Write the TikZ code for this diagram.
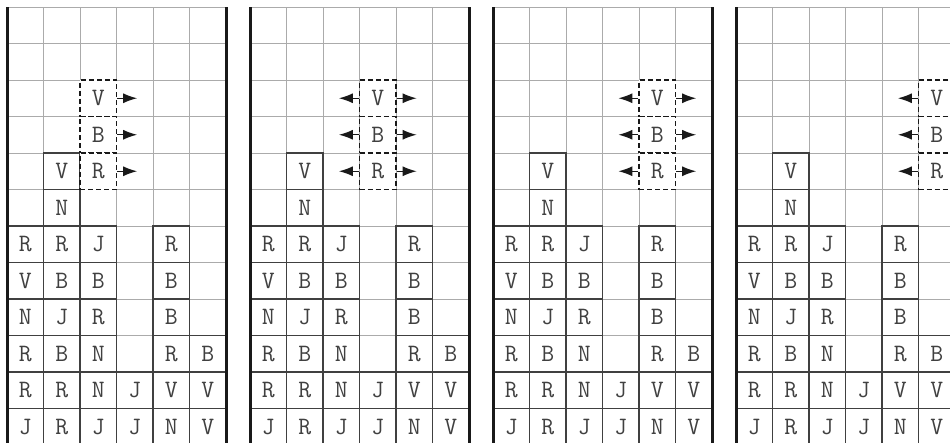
\documentclass[tikz,border=0pt]{standalone}
\usepackage{fontspec}
\usetikzlibrary{arrows.meta}

\begin{document}
\begin{tikzpicture}[x=1pt,y=-1pt,
    cell/.style={draw=black!75,line width=1.2pt,minimum size=36.5pt,inner sep=0pt,
                 text=black!75,font=\ttfamily\fontsize{25}{25}\selectfont},
    piece/.style={cell,draw=black!90,dash pattern=on 5pt off 3pt,fill=white,line width=1.3pt},
    gridln/.style={draw=black!33,line width=1pt},
    rim/.style={draw=black!90,line width=3pt},
    move/.style={-{Latex[length=14pt,width=10pt]},line width=1.3pt,black!90}]
  \useasboundingbox (0,0) rectangle (950,442);
  \clip (0,0) rectangle (950,442);
  \foreach \k/\p in {0/2,1/3,2/4,3/5}{
    \pgfmathsetmacro{\X}{7+243*\k}
    % grid of the well
    \foreach \i in {0,...,6}
      \draw[gridln] (\X+36.5*\i,7) -- (\X+36.5*\i,445);
    \foreach \j in {0,...,12}
      \draw[gridln] (\X,7+36.5*\j) -- (\X+219,7+36.5*\j);
    % settled blocks
    \foreach \c/\r/\t in {1/4/V,1/5/N,
        0/6/R,1/6/R,2/6/J,4/6/R,
        0/7/V,1/7/B,2/7/B,4/7/B,
        0/8/N,1/8/J,2/8/R,4/8/B,
        0/9/R,1/9/B,2/9/N,4/9/R,5/9/B,
        0/10/R,1/10/R,2/10/N,3/10/J,4/10/V,5/10/V,
        0/11/J,1/11/R,2/11/J,3/11/J,4/11/N,5/11/V}
      \node[cell] (s\k-\c-\r) at (\X+36.5*\c+18.25,7+36.5*\r+18.25) {\t};
    % falling piece and its moves
    \foreach \r/\t in {2/V,3/B,4/R}{
      \node[piece] (p\k-\r) at (\X+36.5*\p+18.25,7+36.5*\r+18.25) {\t};
      \ifnum\p<5
        \coordinate (r\k-\r) at ([xshift=20pt]p\k-\r.east);
        \draw[move] (p\k-\r.east) -- (r\k-\r);
      \fi
      \ifnum\p>2
        \coordinate (l\k-\r) at ([xshift=-20pt]p\k-\r.west);
        \draw[move] (p\k-\r.west) -- (l\k-\r);
      \fi
    }
    % walls
    \draw[rim] (\X,7) -- (\X,445);
    \draw[rim] (\X+219,7) -- (\X+219,445);
  }
\end{tikzpicture}
\end{document}
